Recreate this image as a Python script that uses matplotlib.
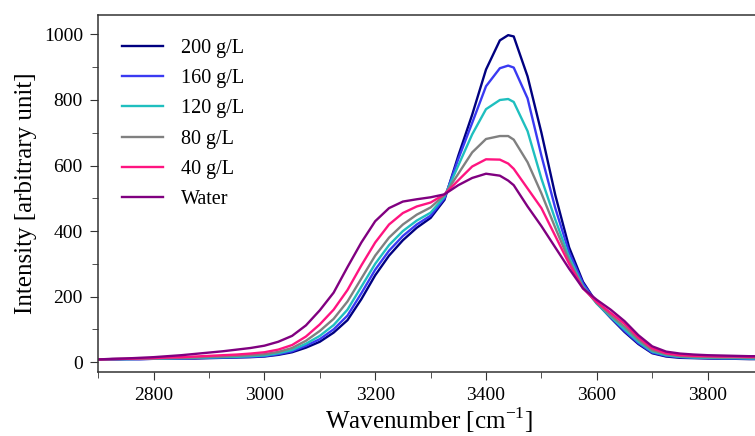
import numpy as np
import matplotlib
matplotlib.use("Agg")
import matplotlib.pyplot as plt
from matplotlib.ticker import MultipleLocator

plt.rcParams["font.family"] = ["Liberation Serif", "DejaVu Serif"]
plt.rcParams["mathtext.fontset"] = "custom"
plt.rcParams["mathtext.rm"] = "Liberation Serif"

# Raman OH-stretch band
wavenumber = [2700, 2725, 2750, 2775, 2800, 2825, 2850, 2875, 2900, 2925, 2950, 2975,
              3000, 3025, 3050, 3075, 3100, 3125, 3150, 3175, 3200, 3225, 3250, 3275,
              3300, 3325, 3350, 3375, 3400, 3425, 3440, 3450, 3475, 3500, 3525, 3550,
              3575, 3600, 3625, 3650, 3675, 3700, 3725, 3750, 3775, 3800, 3825, 3850,
              3875, 3900]

c200 = [8, 8, 9, 9, 10, 10, 11, 11, 12, 13, 14, 15, 17, 22, 30, 44, 62, 90, 128, 192,
        265, 325, 372, 410, 440, 495, 630, 755, 893, 982, 998, 994, 872, 700, 510, 350,
        245, 180, 135, 92, 55, 27, 17, 13, 12, 11, 10, 10, 9, 9]
c160 = [8, 8, 9, 9, 10, 10, 11, 12, 13, 14, 15, 16, 18, 24, 33, 50, 70, 100, 142, 210,
        282, 340, 385, 420, 447, 500, 620, 730, 842, 897, 905, 899, 805, 630, 470, 335,
        240, 180, 137, 95, 58, 29, 19, 15, 13, 12, 11, 11, 10, 10]
c120 = [8, 9, 9, 10, 10, 11, 12, 13, 14, 15, 16, 18, 20, 27, 37, 56, 80, 113, 160, 230,
        300, 357, 400, 432, 456, 505, 600, 695, 772, 800, 803, 794, 705, 560, 435, 320,
        232, 178, 138, 100, 62, 32, 21, 16, 14, 13, 12, 12, 11, 11]
c80 = [8, 9, 10, 11, 11, 12, 13, 14, 16, 17, 19, 21, 24, 31, 43, 65, 95, 132, 185, 255,
       325, 380, 420, 450, 472, 510, 575, 640, 681, 690, 690, 679, 610, 515, 410, 310,
       228, 180, 143, 108, 68, 36, 24, 18, 16, 15, 14, 14, 13, 13]
c40 = [8, 9, 10, 11, 12, 14, 15, 17, 19, 21, 23, 26, 30, 38, 52, 78, 115, 160, 220, 295,
       365, 420, 455, 475, 487, 512, 555, 597, 619, 618, 606, 590, 530, 470, 385, 300,
       225, 183, 150, 117, 75, 42, 27, 21, 19, 18, 17, 17, 16, 16]
water = [8, 10, 11, 13, 15, 18, 21, 25, 29, 33, 38, 43, 50, 62, 80, 112, 158, 212, 290, 365,
         430, 470, 490, 497, 503, 512, 540, 562, 575, 569, 554, 540, 475, 415, 350, 285,
         225, 190, 160, 125, 82, 48, 32, 26, 23, 21, 20, 19, 18, 18]

labels = ["200 g/L", "160 g/L", "120 g/L", "80 g/L", "40 g/L", "Water"]
series = [c200, c160, c120, c80, c40, water]
colors = ["#000080", "#3a3af2", "#1fbfbf", "#808080", "#ff1480", "#800080"]

fig = plt.figure(figsize=(7.55, 4.36), dpi=100)
ax = fig.add_axes([0.130, 0.147, 0.877, 0.819])

for y, lab, col in zip(series, labels, colors):
    ax.plot(wavenumber, y, color=col, lw=1.7, label=lab, solid_joinstyle="round")

ax.set_xlim(2700, 3895)
ax.set_ylim(-30, 1060)
ax.xaxis.set_major_locator(MultipleLocator(200))
ax.xaxis.set_minor_locator(MultipleLocator(100))
ax.yaxis.set_major_locator(MultipleLocator(200))
ax.yaxis.set_minor_locator(MultipleLocator(100))
ax.tick_params(which="both", direction="out", labelsize=14, color="#333333")
ax.tick_params(which="major", length=6, pad=5)
ax.tick_params(which="minor", length=4)
for s in ax.spines.values():
    s.set_color("#333333")
    s.set_linewidth(1.1)

ax.set_xlabel("Wavenumber [cm$^{\\mathregular{-1}}$]", fontsize=18, labelpad=1)
ax.set_ylabel("Intensity [arbitrary unit]", fontsize=18, labelpad=5)

ax.legend(loc="upper left", frameon=False, fontsize=14.5, handlelength=2.0,
          handletextpad=0.9, labelspacing=0.55, borderaxespad=0.8)

fig.savefig("out.png", dpi=100)
